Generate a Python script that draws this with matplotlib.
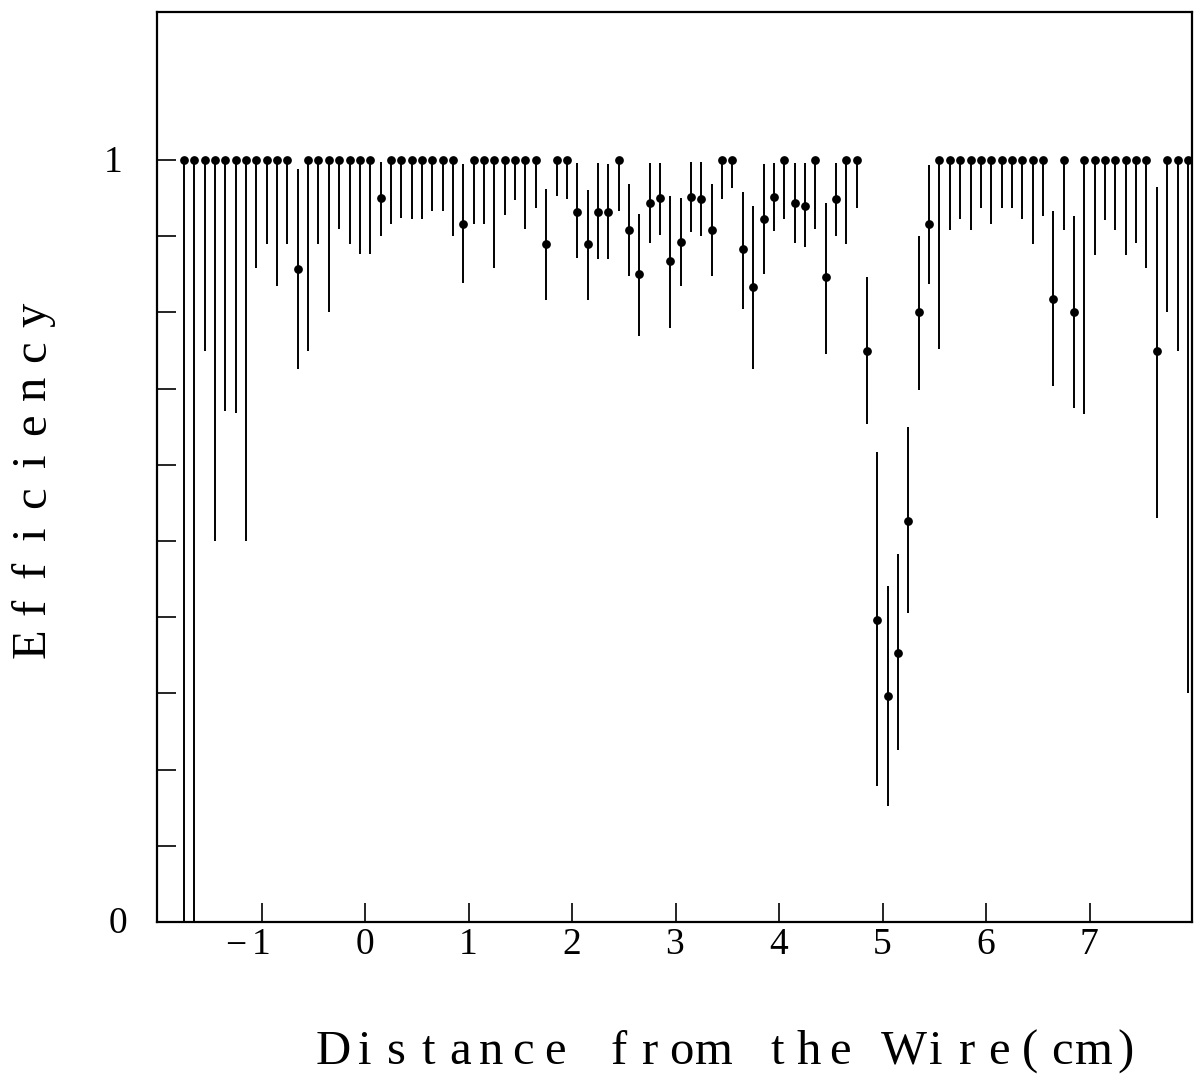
import numpy as np
import matplotlib
matplotlib.use("Agg")
import matplotlib.pyplot as plt
from matplotlib.ticker import FixedLocator, NullFormatter

# bin centres (cm)
distance = [
    -1.75, -1.65, -1.55, -1.45, -1.35, -1.25, -1.15, -1.05, -0.95, -0.85,
    -0.75, -0.65, -0.55, -0.45, -0.35, -0.25, -0.15, -0.05, 0.05, 0.15,
    0.25, 0.35, 0.45, 0.55, 0.65, 0.75, 0.85, 0.95, 1.05, 1.15,
    1.25, 1.35, 1.45, 1.55, 1.65, 1.75, 1.85, 1.95, 2.05, 2.15,
    2.25, 2.35, 2.45, 2.55, 2.65, 2.75, 2.85, 2.95, 3.05, 3.15,
    3.25, 3.35, 3.45, 3.55, 3.65, 3.75, 3.85, 3.95, 4.05, 4.15,
    4.25, 4.35, 4.45, 4.55, 4.65, 4.75, 4.85, 4.95, 5.05, 5.15,
    5.25, 5.35, 5.45, 5.55, 5.65, 5.75, 5.85, 5.95, 6.05, 6.15,
    6.25, 6.35, 6.45, 6.55, 6.65, 6.75, 6.85, 6.95, 7.05, 7.15,
    7.25, 7.35, 7.45, 7.55, 7.65, 7.75, 7.85, 7.95,
]

efficiency = [
    1, 1, 1, 1, 1, 1, 1, 1, 1, 1,
    1, 0.857, 1, 1, 1, 1, 1, 1, 1, 0.95,
    1, 1, 1, 1, 1, 1, 1, 0.916, 1, 1,
    1, 1, 1, 1, 1, 0.89, 1, 1, 0.932, 0.89,
    0.932, 0.932, 1, 0.908, 0.85, 0.943, 0.95, 0.867, 0.893, 0.951,
    0.949, 0.908, 1, 1, 0.883, 0.833, 0.922, 0.951, 1, 0.943,
    0.94, 1, 0.846, 0.949, 1, 1, 0.75, 0.396, 0.297, 0.353,
    0.526, 0.80, 0.916, 1, 1, 1, 1, 1, 1, 1,
    1, 1, 1, 1, 0.818, 1, 0.80, 1, 1, 1,
    1, 1, 1, 1, 0.749, 1, 1, 1,
]

# lower / upper edge of the error bar
eff_low = [
    0.0, 0.0, 0.75, 0.50, 0.67, 0.668, 0.50, 0.858, 0.89, 0.834,
    0.89, 0.726, 0.75, 0.89, 0.80, 0.909, 0.89, 0.877, 0.877, 0.90,
    0.916, 0.924, 0.922, 0.922, 0.933, 0.933, 0.90, 0.838, 0.916, 0.916,
    0.858, 0.928, 0.947, 0.909, 0.937, 0.816, 0.953, 0.949, 0.871, 0.816,
    0.870, 0.870, 0.933, 0.848, 0.769, 0.891, 0.902, 0.78, 0.835, 0.906,
    0.90, 0.848, 0.949, 0.963, 0.804, 0.726, 0.85, 0.907, 0.922, 0.891,
    0.886, 0.909, 0.745, 0.90, 0.89, 0.937, 0.653, 0.178, 0.152, 0.226,
    0.406, 0.698, 0.837, 0.752, 0.908, 0.922, 0.908, 0.937, 0.916, 0.937,
    0.937, 0.922, 0.89, 0.927, 0.703, 0.908, 0.675, 0.667, 0.875, 0.921,
    0.908, 0.875, 0.891, 0.858, 0.53, 0.80, 0.75, 0.30,
]

eff_high = [
    1, 1, 1, 1, 1, 1, 1, 1, 1, 1,
    1, 0.988, 1, 1, 1, 1, 1, 1, 1, 0.997,
    1, 1, 1, 1, 1, 1, 1, 0.995, 1, 1,
    1, 1, 1, 1, 1, 0.962, 1, 1, 0.996, 0.961,
    0.996, 0.995, 1, 0.968, 0.929, 0.996, 0.996, 0.953, 0.95, 0.997,
    0.997, 0.968, 1, 1, 0.958, 0.94, 0.995, 0.996, 1, 0.996,
    0.996, 1, 0.944, 0.996, 1, 1, 0.846, 0.617, 0.441, 0.483,
    0.65, 0.90, 0.994, 1, 1, 1, 1, 1, 1, 1,
    1, 1, 1, 1, 0.933, 1, 0.926, 1, 1, 1,
    1, 1, 1, 1, 0.965, 1, 1, 1,
]

x_ticks = [-1, 0, 1, 2, 3, 4, 5, 6, 7]
y_minor = [0.1, 0.2, 0.3, 0.4, 0.5, 0.6, 0.7, 0.8, 0.9]

SERIF = "Liberation Serif"
W, H = 1194, 1081

eff = np.array(efficiency)
yerr = [eff - np.array(eff_low), np.array(eff_high) - eff]

fig = plt.figure(figsize=(W / 100, H / 100), dpi=100)
ax = fig.add_axes([157 / W, 1 - 922 / H, (1192 - 157) / W, (922 - 12) / H])

ax.errorbar(distance, eff, yerr=yerr, fmt="o", color="black", ms=6.3,
            elinewidth=1.4, capsize=0, mew=0)

ax.set_xlim(-2.01, 7.99)
ax.set_ylim(0, 910 / 762)

for s in ax.spines.values():
    s.set_linewidth(1.6)

ax.xaxis.set_major_locator(FixedLocator(x_ticks))
ax.yaxis.set_major_locator(FixedLocator([0, 1]))
ax.yaxis.set_minor_locator(FixedLocator(y_minor))
ax.xaxis.set_major_formatter(NullFormatter())
ax.yaxis.set_major_formatter(NullFormatter())
ax.tick_params(which="both", direction="in", length=14, width=1.2,
               top=False, right=False)

# tick labels drawn by hand, HIGZ style
for t in x_ticks:
    xf = (261 + (t + 1) * 103.5) / W
    if t < 0:
        fig.text(xf, 1 - 945 / H, str(-t), fontsize=27, family=SERIF,
                 ha="center", va="center")
        fig.text(xf - 25 / W, 1 - 947 / H, "\u2212", fontsize=27,
                 family=SERIF, ha="center", va="center")
    else:
        fig.text(xf, 1 - 945 / H, str(t), fontsize=27, family=SERIF,
                 ha="center", va="center")
fig.text(113 / W, 1 - 163 / H, "1", fontsize=27, family=SERIF,
         ha="center", va="center")
fig.text(118 / W, 1 - 924 / H, "0", fontsize=27, family=SERIF,
         ha="center", va="center")

# spaced-out axis titles
xlabel = "Distance from the Wire(cm)"
x0 = 333
for i, ch in enumerate(xlabel):
    fig.text((x0 + i * 31.7) / W, 1 - 1052 / H, ch, fontsize=35,
             family=SERIF, ha="center", va="center")

ylabel = "Efficiency"
y0 = 643
for i, ch in enumerate(ylabel):
    fig.text(33 / W, 1 - (y0 - i * 36.5) / H, ch, fontsize=35,
             family=SERIF, ha="center", va="center", rotation=90)

fig.savefig("out.png", dpi=100)
